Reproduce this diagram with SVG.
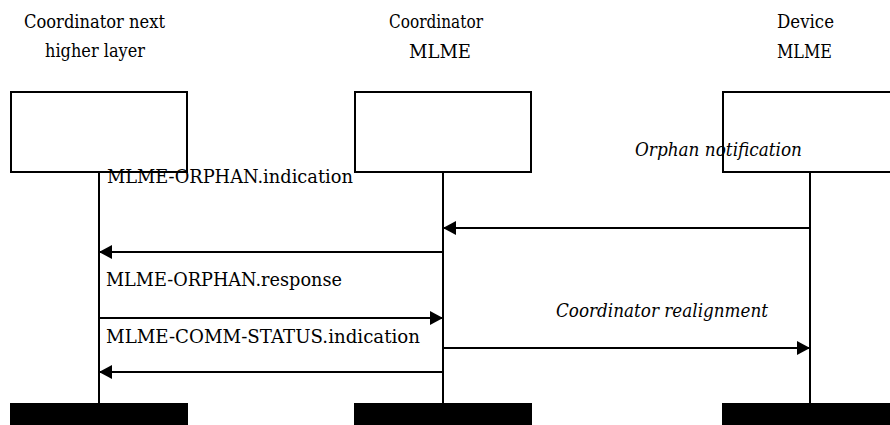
<svg xmlns="http://www.w3.org/2000/svg" width="890" height="425" viewBox="0 0 890 425">
  <style>
    .box { fill: #ffffff; stroke: #000000; stroke-width: 2; }
    .bar { fill: #000000; stroke: none; }
    .life { stroke: #000000; stroke-width: 2; fill: none; }
    .msg { stroke: #000000; stroke-width: 2; fill: none; marker-end: url(#arrow); }
    text { font-family: 'DejaVu Serif', 'Liberation Serif', serif; fill: #000000; }
    .title { font-size: 19px; }
    .label { font-size: 19px; }
    .ital { font-size: 19px; font-style: italic; }
  </style>
  <defs>
    <marker id="arrow" viewBox="0 0 13 14" refX="13" refY="7" markerWidth="13" markerHeight="14" markerUnits="userSpaceOnUse" orient="auto">
      <path d="M0,0 L13,7 L0,14 Z" fill="#000000"/>
    </marker>
  </defs>
  <rect width="890" height="425" fill="#ffffff"/>

  <g id="node-coord-nhl">
    <text class="title" x="24" y="28" textLength="141" lengthAdjust="spacingAndGlyphs">Coordinator next</text>
    <text class="title" x="45" y="57" textLength="100" lengthAdjust="spacingAndGlyphs">higher layer</text>
    <rect class="box" x="11" y="92" width="176" height="80"/>
    <line class="life" x1="99" y1="172" x2="99" y2="404"/>
    <rect class="bar" x="10" y="403" width="178" height="22"/>
  </g>

  <g id="node-coord-mlme">
    <text class="title" x="389" y="28" textLength="94" lengthAdjust="spacingAndGlyphs">Coordinator</text>
    <text class="title" x="409" y="58" textLength="62" lengthAdjust="spacingAndGlyphs">MLME</text>
    <rect class="box" x="355" y="92" width="176" height="80"/>
    <line class="life" x1="443" y1="172" x2="443" y2="404"/>
    <rect class="bar" x="354" y="403" width="178" height="22"/>
  </g>

  <g id="node-device-mlme">
    <text class="title" x="777" y="28" textLength="57" lengthAdjust="spacingAndGlyphs">Device</text>
    <text class="title" x="777" y="58" textLength="55" lengthAdjust="spacingAndGlyphs">MLME</text>
    <rect class="box" x="723" y="92" width="180" height="80"/>
    <line class="life" x1="810" y1="172" x2="810" y2="404"/>
    <rect class="bar" x="722" y="403" width="168" height="22"/>
  </g>

  <g id="connectors">
    <line class="msg" x1="810" y1="228" x2="443" y2="228"/>
    <line class="msg" x1="443" y1="252" x2="99" y2="252"/>
    <line class="msg" x1="99" y1="318" x2="443" y2="318"/>
    <line class="msg" x1="443" y1="348" x2="810" y2="348"/>
    <line class="msg" x1="443" y1="372" x2="99" y2="372"/>
  </g>

  <g id="labels">
    <text class="ital" x="635" y="156" textLength="167" lengthAdjust="spacingAndGlyphs">Orphan notification</text>
    <text class="label" x="107" y="183" textLength="246" lengthAdjust="spacingAndGlyphs">MLME-ORPHAN.indication</text>
    <text class="label" x="106" y="286" textLength="236" lengthAdjust="spacingAndGlyphs">MLME-ORPHAN.response</text>
    <text class="ital" x="556" y="317" textLength="212" lengthAdjust="spacingAndGlyphs">Coordinator realignment</text>
    <text class="label" x="106" y="343" textLength="314" lengthAdjust="spacingAndGlyphs">MLME-COMM-STATUS.indication</text>
  </g>
</svg>
